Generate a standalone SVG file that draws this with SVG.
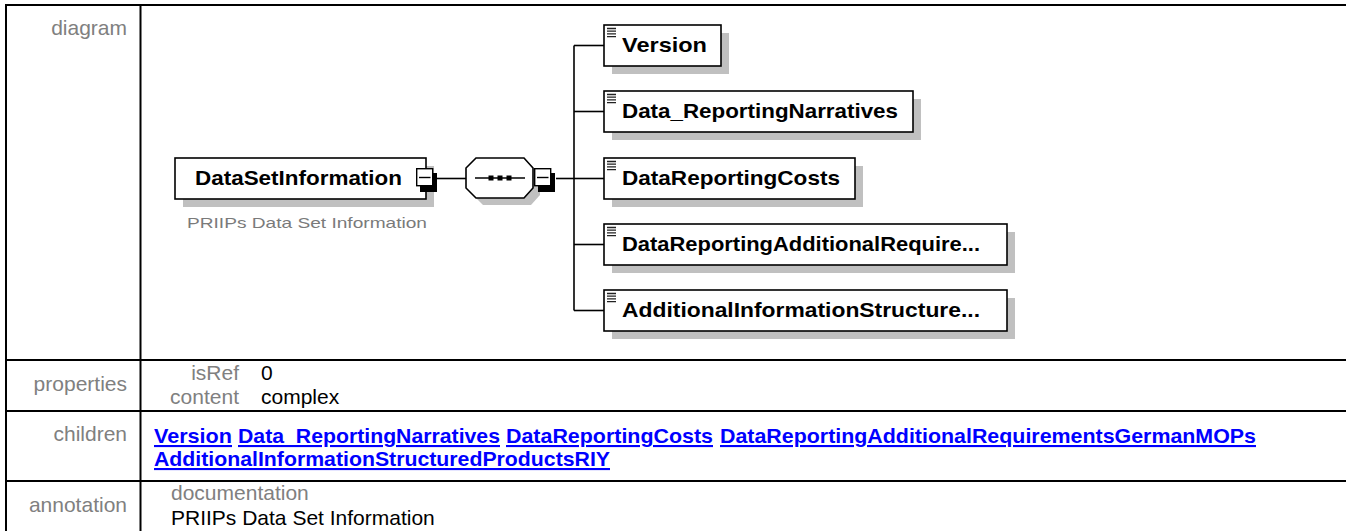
<svg xmlns="http://www.w3.org/2000/svg" xmlns:xlink="http://www.w3.org/1999/xlink" width="1346" height="531" viewBox="0 0 1346 531">
<style>
.tl{stroke:#000;stroke-width:2;fill:none}
.lbl{font-family:"Liberation Sans",Arial,sans-serif;font-size:21px;fill:#808080}
.val{font-family:"Liberation Sans",Arial,sans-serif;font-size:21px;fill:#000}
.lnk{font-family:"Liberation Sans",Arial,sans-serif;font-size:21px;font-weight:bold;fill:#0000ff;text-decoration:underline}
.shadow{fill:#c0c0c0}
.box{fill:#fff;stroke:#000;stroke-width:1.6}
.name{font-family:"Liberation Sans",Arial,sans-serif;font-size:21px;font-weight:bold;fill:#000}
.desc{font-family:"Liberation Sans",Arial,sans-serif;font-size:15px;fill:#7a7a7a}
.conn{stroke:#000;stroke-width:1.6;fill:none}
</style>
<defs>
<g id="minusbox">
<rect x="4" y="5" width="17" height="19" fill="#000"/>
<rect x="0.7" y="0.7" width="16" height="17" fill="#fff" stroke="#000" stroke-width="1.4"/>
<line x1="3" y1="9.5" x2="14.5" y2="9.5" stroke="#000" stroke-width="1.4"/>
</g>
<g id="icon">
<path d="M3 3.5h9M3 6.2h9M3 8.9h9M3 11.6h9" stroke="#222" stroke-width="1.3" fill="none"/>
</g>
</defs>
<rect x="0" y="0" width="1346" height="531" fill="#fff"/>

<g id="table">
<line class="tl" x1="6" y1="5" x2="1346" y2="5"/>
<line class="tl" x1="6" y1="4" x2="6" y2="531"/>
<line class="tl" x1="140.5" y1="4" x2="140.5" y2="531"/>
<line class="tl" x1="6" y1="360" x2="1346" y2="360"/>
<line class="tl" x1="6" y1="411" x2="1346" y2="411"/>
<line class="tl" x1="6" y1="481" x2="1346" y2="481"/>
<text class="lbl" x="127" y="35" text-anchor="end">diagram</text>
<text class="lbl" x="127" y="391" text-anchor="end">properties</text>
<text class="lbl" x="127" y="441" text-anchor="end">children</text>
<text class="lbl" x="127" y="512" text-anchor="end">annotation</text>
<text class="lbl" x="239" y="380" text-anchor="end">isRef</text>
<text class="lbl" x="239" y="404" text-anchor="end">content</text>
<text class="val" x="261" y="380">0</text>
<text class="val" x="261" y="404">complex</text>
<text class="lnk" x="154" y="443" textLength="78" lengthAdjust="spacingAndGlyphs">Version</text>
<text class="lnk" x="238" y="443" textLength="262" lengthAdjust="spacingAndGlyphs">Data_ReportingNarratives</text>
<text class="lnk" x="506" y="443" textLength="207" lengthAdjust="spacingAndGlyphs">DataReportingCosts</text>
<text class="lnk" x="720" y="443" textLength="536" lengthAdjust="spacingAndGlyphs">DataReportingAdditionalRequirementsGermanMOPs</text>
<text class="lnk" x="154" y="466" textLength="456" lengthAdjust="spacingAndGlyphs">AdditionalInformationStructuredProductsRIY</text>
<text class="lbl" x="171" y="500">documentation</text>
<text class="val" x="171" y="525">PRIIPs Data Set Information</text>
</g>

<g id="connectors">
<line class="conn" x1="437" y1="178.5" x2="466" y2="178.5"/>
<line class="conn" x1="556" y1="178.5" x2="574" y2="178.5"/>
<line class="conn" x1="574" y1="45.5" x2="574" y2="310.5"/>
<line class="conn" x1="574" y1="45.5" x2="604" y2="45.5"/>
<line class="conn" x1="574" y1="111.5" x2="604" y2="111.5"/>
<line class="conn" x1="574" y1="178.5" x2="604" y2="178.5"/>
<line class="conn" x1="574" y1="244.5" x2="604" y2="244.5"/>
<line class="conn" x1="574" y1="310.5" x2="604" y2="310.5"/>
</g>

<g id="node-DataSetInformation">
<rect class="shadow" x="183" y="166" width="251" height="41"/>
<rect class="box" x="175" y="158" width="251" height="41"/>
<text class="name" x="195" y="185" textLength="207" lengthAdjust="spacingAndGlyphs">DataSetInformation</text>
<use xlink:href="#minusbox" x="416" y="168"/>
<text class="desc" x="187" y="228" textLength="240" lengthAdjust="spacingAndGlyphs">PRIIPs Data Set Information</text>
</g>

<g id="node-sequence">
<polygon class="shadow" points="483,165 531,165 540,175 540,195 531,205 483,205 473,195 473,175"/>
<polygon class="box" points="476,158 524,158 533,168 533,188 524,198 476,198 466,188 466,168"/>
<line x1="475" y1="178" x2="525" y2="178" stroke="#000" stroke-width="1.4"/>
<rect x="488.5" y="175.5" width="5" height="5" fill="#000"/>
<rect x="497.5" y="175.5" width="5" height="5" fill="#000"/>
<rect x="506.5" y="175.5" width="5" height="5" fill="#000"/>
<use xlink:href="#minusbox" x="534" y="168"/>
</g>

<g id="node-Version">
<rect class="shadow" x="612" y="33" width="117" height="41"/>
<rect class="box" x="604" y="25" width="117" height="41"/>
<use xlink:href="#icon" x="604" y="25"/>
<text class="name" x="622" y="52" textLength="85" lengthAdjust="spacingAndGlyphs">Version</text>
</g>

<g id="node-Data_ReportingNarratives">
<rect class="shadow" x="612" y="99" width="309" height="41"/>
<rect class="box" x="604" y="91" width="309" height="41"/>
<use xlink:href="#icon" x="604" y="91"/>
<text class="name" x="622" y="118" textLength="276" lengthAdjust="spacingAndGlyphs">Data_ReportingNarratives</text>
</g>

<g id="node-DataReportingCosts">
<rect class="shadow" x="612" y="166" width="251" height="41"/>
<rect class="box" x="604" y="158" width="251" height="41"/>
<use xlink:href="#icon" x="604" y="158"/>
<text class="name" x="622" y="185" textLength="218" lengthAdjust="spacingAndGlyphs">DataReportingCosts</text>
</g>

<g id="node-DataReportingAdditionalRequirementsGermanMOPs">
<rect class="shadow" x="612" y="232" width="403" height="41"/>
<rect class="box" x="604" y="224" width="403" height="41"/>
<use xlink:href="#icon" x="604" y="224"/>
<text class="name" x="622" y="251" textLength="358" lengthAdjust="spacingAndGlyphs">DataReportingAdditionalRequire...</text>
</g>

<g id="node-AdditionalInformationStructuredProductsRIY">
<rect class="shadow" x="612" y="298" width="403" height="41"/>
<rect class="box" x="604" y="290" width="403" height="41"/>
<use xlink:href="#icon" x="604" y="290"/>
<text class="name" x="622" y="317" textLength="358" lengthAdjust="spacingAndGlyphs">AdditionalInformationStructure...</text>
</g>
</svg>
